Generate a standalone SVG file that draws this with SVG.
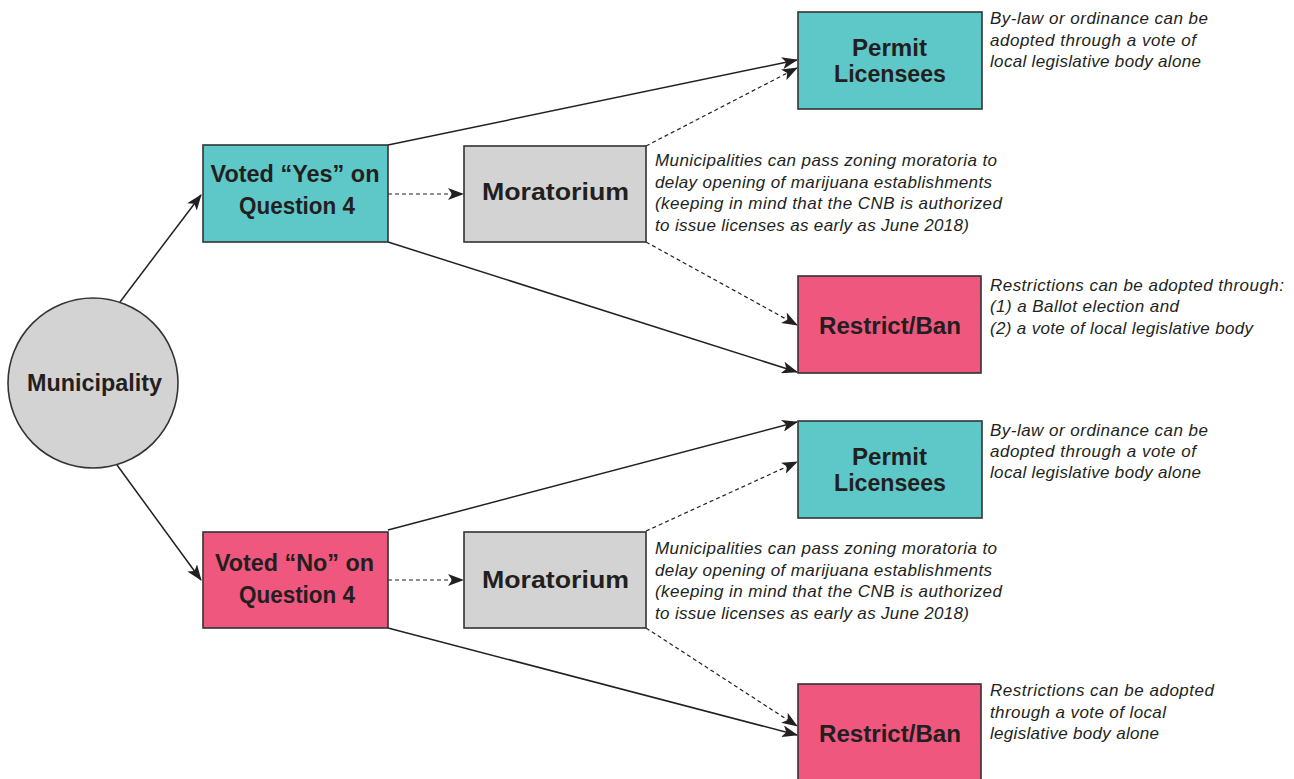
<svg xmlns="http://www.w3.org/2000/svg" width="1294" height="779" viewBox="0 0 1294 779">
<defs>
<style>
.box{stroke:#333;stroke-width:1.6}
.teal{fill:#5ec8c8}.pink{fill:#ef577e}.gray{fill:#d3d3d3}
.lbl{font-family:"Liberation Sans",Arial,sans-serif;font-weight:bold;fill:#231f20;text-anchor:middle;font-size:23px}
.note{font-family:"Liberation Sans",Arial,sans-serif;font-style:italic;font-size:17px;fill:#231f20}
.c{stroke:#231f20;stroke-width:1.5;fill:none;marker-end:url(#ah)}
.d{stroke-dasharray:4,3;stroke-width:1.2}
</style>
<marker id="ah" viewBox="0 0 16 12" refX="15" refY="6" markerWidth="16" markerHeight="12" markerUnits="userSpaceOnUse" orient="auto">
<path d="M0,0 L16,6 L0,12 L4,6 z" fill="#231f20"/>
</marker>
</defs>
<rect width="1294" height="779" fill="#fff"/>
<g id="connectors">
<line class="c" x1="120" y1="302" x2="201" y2="195"/>
<line class="c" x1="117" y1="465" x2="201" y2="580"/>
<line class="c" x1="388" y1="145" x2="797" y2="60"/>
<line class="c" x1="388" y1="242" x2="797" y2="372"/>
<line class="c d" x1="388" y1="194" x2="463" y2="194"/>
<line class="c d" x1="646" y1="146" x2="797" y2="68"/>
<line class="c d" x1="646" y1="242" x2="797" y2="325"/>
<line class="c" x1="388" y1="530" x2="797" y2="422"/>
<line class="c d" x1="388" y1="580" x2="463" y2="580"/>
<line class="c d" x1="646" y1="531" x2="797" y2="462"/>
<line class="c d" x1="646" y1="628" x2="797" y2="726"/>
<line class="c" x1="388" y1="628" x2="797" y2="735"/>
</g>
<g id="municipality">
<circle class="box gray" cx="93" cy="383" r="85"/>
<text class="lbl" x="94.5" y="391" textLength="135" lengthAdjust="spacingAndGlyphs">Municipality</text>
</g>
<g id="yes">
<rect class="box teal" x="203" y="145" width="185" height="97"/>
<text class="lbl" x="295" y="182" textLength="169" lengthAdjust="spacingAndGlyphs">Voted “Yes” on</text>
<text class="lbl" x="297" y="214" textLength="116" lengthAdjust="spacingAndGlyphs">Question 4</text>
</g>
<g id="moratorium1">
<rect class="box gray" x="464" y="146" width="182" height="96"/>
<text class="lbl" x="555.5" y="200" font-size="25" textLength="147" lengthAdjust="spacingAndGlyphs">Moratorium</text>
<text class="note" x="655" y="166" textLength="342">Municipalities can pass zoning moratoria to</text>
<text class="note" x="655" y="188" textLength="337">delay opening of marijuana establishments</text>
<text class="note" x="655" y="209" textLength="347">(keeping in mind that the CNB is authorized</text>
<text class="note" x="655" y="231" textLength="314">to issue licenses as early as June 2018)</text>
</g>
<g id="permit1">
<rect class="box teal" x="798" y="12" width="184" height="97"/>
<text class="lbl" x="889.5" y="56" textLength="75" lengthAdjust="spacingAndGlyphs">Permit</text>
<text class="lbl" x="890" y="82" textLength="112" lengthAdjust="spacingAndGlyphs">Licensees</text>
<text class="note" x="990" y="24" textLength="218">By-law or ordinance can be</text>
<text class="note" x="990" y="46" textLength="206">adopted through a vote of</text>
<text class="note" x="990" y="67" textLength="211">local legislative body alone</text>
</g>
<g id="restrict1">
<rect class="box pink" x="798" y="276" width="183" height="97"/>
<text class="lbl" x="890" y="334" textLength="142" lengthAdjust="spacingAndGlyphs">Restrict/Ban</text>
<text class="note" x="990" y="291" textLength="294">Restrictions can be adopted through:</text>
<text class="note" x="990" y="312" textLength="189">(1) a Ballot election and</text>
<text class="note" x="990" y="334" textLength="263">(2) a vote of local legislative body</text>
</g>
<g id="no">
<rect class="box pink" x="203" y="532" width="185" height="96"/>
<text class="lbl" x="294.5" y="571" textLength="159" lengthAdjust="spacingAndGlyphs">Voted “No” on</text>
<text class="lbl" x="297" y="603" textLength="116" lengthAdjust="spacingAndGlyphs">Question 4</text>
</g>
<g id="moratorium2">
<rect class="box gray" x="464" y="532" width="182" height="96"/>
<text class="lbl" x="555.5" y="588" font-size="25" textLength="147" lengthAdjust="spacingAndGlyphs">Moratorium</text>
<text class="note" x="655" y="554" textLength="342">Municipalities can pass zoning moratoria to</text>
<text class="note" x="655" y="576" textLength="337">delay opening of marijuana establishments</text>
<text class="note" x="655" y="597" textLength="347">(keeping in mind that the CNB is authorized</text>
<text class="note" x="655" y="619" textLength="314">to issue licenses as early as June 2018)</text>
</g>
<g id="permit2">
<rect class="box teal" x="798" y="421" width="184" height="97"/>
<text class="lbl" x="889.5" y="465" textLength="75" lengthAdjust="spacingAndGlyphs">Permit</text>
<text class="lbl" x="890" y="491" textLength="112" lengthAdjust="spacingAndGlyphs">Licensees</text>
<text class="note" x="990" y="436" textLength="218">By-law or ordinance can be</text>
<text class="note" x="990" y="457" textLength="206">adopted through a vote of</text>
<text class="note" x="990" y="478" textLength="211">local legislative body alone</text>
</g>
<g id="restrict2">
<rect class="box pink" x="798" y="684" width="183" height="100"/>
<text class="lbl" x="890" y="742" textLength="142" lengthAdjust="spacingAndGlyphs">Restrict/Ban</text>
<text class="note" x="990" y="696" textLength="224">Restrictions can be adopted</text>
<text class="note" x="990" y="718" textLength="176">through a vote of local</text>
<text class="note" x="990" y="739" textLength="169">legislative body alone</text>
</g>
</svg>
